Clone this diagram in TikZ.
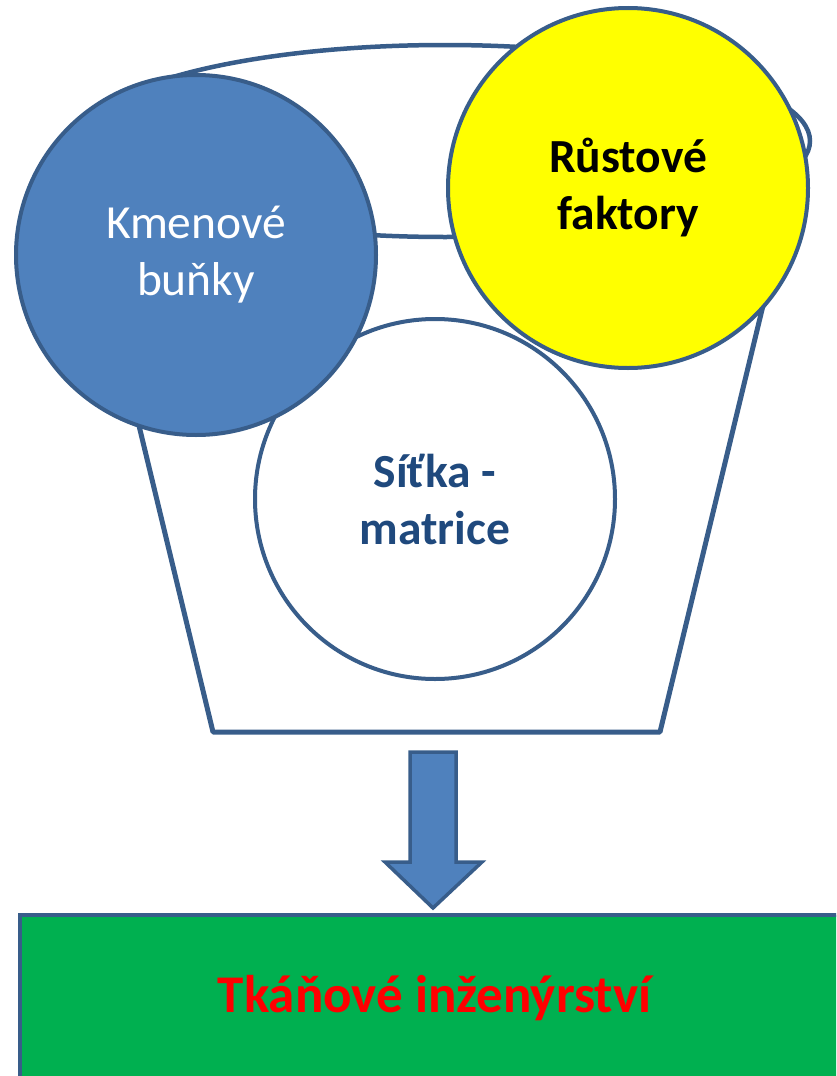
\documentclass[tikz,border=0pt]{standalone}
\usepackage{fontspec}
\setmainfont{Carlito}
\definecolor{accent}{HTML}{4F81BD}
\definecolor{edge}{HTML}{385D8A}
\definecolor{navy}{HTML}{1F497D}
\definecolor{growth}{HTML}{FFFF00}
\definecolor{tissue}{HTML}{00B050}
\tikzset{
  ball/.style={circle, draw=edge, line width=4pt, minimum size=360pt, inner sep=0pt, align=center},
  bucket/.style={draw=edge, line width=5pt, line join=round, fill=white},
  pour/.style={draw=edge, line width=3.5pt, fill=accent, line join=miter},
}
\begin{document}
\begin{tikzpicture}[x=1pt, y=-1pt]
      \useasboundingbox (0,0) rectangle (836,1076);
      \clip (0,0) rectangle (836,1076);
      % the bucket
      \draw[bucket] (70,140) -- (213,732) -- (660,732) -- (803,140);
      \draw[bucket, line width=4.5pt] (445,141) ellipse [x radius=365, y radius=96];
      % the three parts
      \node[ball, fill=white, text=navy, font=\bfseries\fontsize{47.5}{57}\selectfont]
            (scaffold) at (435,499) {Síťka -\\matrice};
      \node[ball, fill=accent, text=white, font=\fontsize{47.5}{57}\selectfont]
            (cells) at (196,255) {Kmenové\\buňky};
      \node[ball, fill=growth, text=black, font=\bfseries\fontsize{47.5}{57}\selectfont]
            (factors) at (628,188) {Růstové\\faktory};
      % result
      \node[draw=edge, line width=4pt, fill=tissue, minimum width=829pt, minimum height=166pt,
            text=red, font=\bfseries\fontsize{53}{60}\selectfont]
            (tissue) at (434.5,998) {Tkáňové inženýrství};
      \draw[pour] (410,752) -- (456,752) -- (456,862) -- (482,862) -- (433,908)
                  -- (385,862) -- (410,862) -- cycle;
\end{tikzpicture}
\end{document}
